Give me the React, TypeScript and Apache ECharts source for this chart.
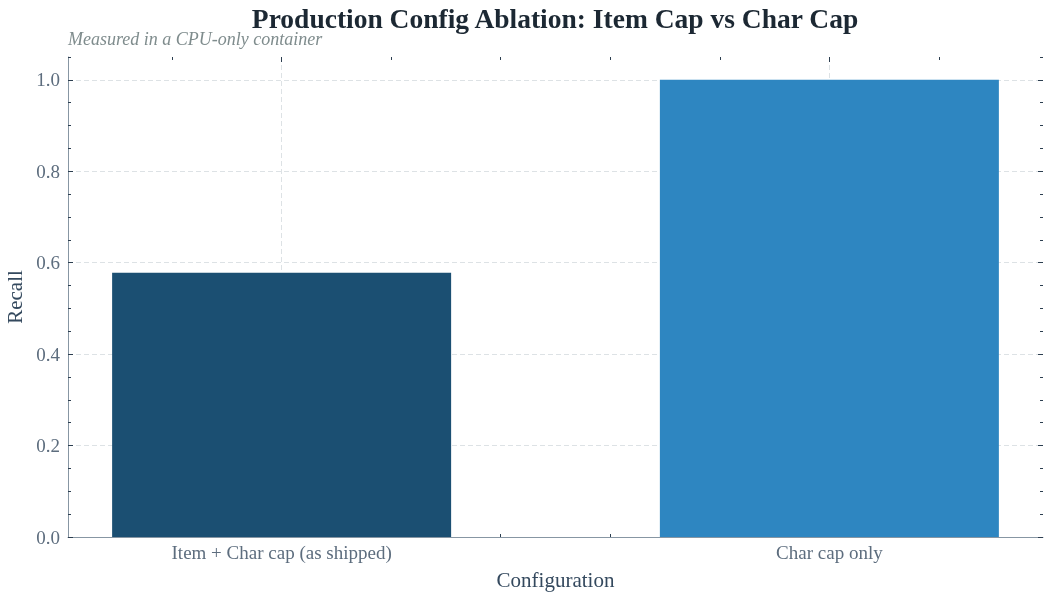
import React, { useEffect, useRef } from "react";
import * as echarts from "echarts";

// data
const categories = ["Item + Char cap (as shipped)", "Char cap only"];
const recall = [0.578, 1.0];
const barColors = ["#1b4f72", "#2e86c1"];

// tick values
const yMajorTicks = [0, 0.2, 0.4, 0.6, 0.8, 1.0];
const yMinorTicks = [
  0.05, 0.1, 0.15, 0.25, 0.3, 0.35, 0.45, 0.5, 0.55, 0.65, 0.7, 0.75, 0.85,
  0.9, 0.95, 1.05,
];
const xMajorTicks = [0, 1];
const xMinorTicks = [-0.2, 0.2, 0.4, 0.6, 0.8, 1.2];

const FONT = "'Liberation Serif', 'Times New Roman', serif";
const TICK_COLOR = "#2c3e50";
const SPINE_COLOR = "#8796a3";
const GRID_COLOR = "#dde2e5";

const X_MIN = -0.39;
const X_MAX = 1.39;

const App: React.FC = () => {
  const chartRef = useRef<HTMLDivElement>(null);

  useEffect(() => {
    const chart = echarts.init(chartRef.current, undefined, { renderer: "svg" });

    // hidden-line axes used only for extra tick marks
    const xAxisBase = {
      type: "value" as const,
      min: X_MIN,
      max: X_MAX,
      axisLine: { show: false, onZero: false },
      axisLabel: { show: false },
      splitLine: { show: false },
    };
    const yAxisBase = {
      type: "value" as const,
      min: 0,
      max: 1.05,
      axisLine: { show: false, onZero: false },
      axisLabel: { show: false },
      splitLine: { show: false },
    };
    const ticks = (values: number[], length: number) => ({
      show: true,
      customValues: values,
      inside: true,
      length,
      lineStyle: { color: TICK_COLOR, width: 1 },
    });

    const option: echarts.EChartsOption = {
      animation: false,
      textStyle: { fontFamily: FONT },
      title: [
        {
          text: "Production Config Ablation: Item Cap vs Char Cap",
          left: 555,
          top: 4,
          padding: 0,
          textAlign: "center",
          textStyle: {
            fontFamily: FONT,
            fontSize: 27.5,
            fontWeight: "bold",
            color: "#1c2833",
          },
        },
        {
          text: "Measured in a CPU-only container",
          left: 68,
          top: 30,
          padding: 0,
          textStyle: {
            fontFamily: FONT,
            fontSize: 18,
            fontStyle: "italic",
            fontWeight: "normal",
            color: "#7f8c8d",
          },
        },
      ],
      grid: {
        left: 68,
        right: 7,
        top: 57,
        bottom: 63,
        containLabel: false,
        outerBoundsMode: "none",
      } as any,
      xAxis: [
        {
          ...xAxisBase,
          position: "bottom",
          name: "Configuration",
          nameLocation: "middle",
          nameGap: 32,
          nameTextStyle: { fontFamily: FONT, fontSize: 21, color: "#34495e" },
          axisLine: { show: true, onZero: false, lineStyle: { color: SPINE_COLOR, width: 1 } },
          axisLabel: {
            show: true,
            customValues: xMajorTicks,
            formatter: (v: number) => categories[Math.round(v)] ?? "",
            fontFamily: FONT,
            fontSize: 19,
            color: "#5d6d7e",
            margin: 6,
          },
          axisTick: ticks(xMajorTicks, 5),
          splitLine: {
            show: true,
            lineStyle: { color: GRID_COLOR, type: [5, 3], width: 1 },
          },
        },
        { ...xAxisBase, position: "bottom", axisTick: ticks(xMinorTicks, 3) },
        { ...xAxisBase, position: "top", axisTick: ticks(xMajorTicks, 5) },
        { ...xAxisBase, position: "top", axisTick: ticks(xMinorTicks, 3) },
      ],
      yAxis: [
        {
          ...yAxisBase,
          position: "left",
          name: "Recall",
          nameLocation: "middle",
          nameGap: 42,
          nameTextStyle: { fontFamily: FONT, fontSize: 21, color: "#34495e" },
          axisLine: { show: true, onZero: false, lineStyle: { color: SPINE_COLOR, width: 1 } },
          axisLabel: {
            show: true,
            customValues: yMajorTicks,
            formatter: (v: number) => v.toFixed(1),
            fontFamily: FONT,
            fontSize: 19,
            color: "#5d6d7e",
            margin: 8,
          },
          axisTick: ticks(yMajorTicks, 5),
          splitLine: {
            show: true,
            lineStyle: { color: GRID_COLOR, type: [5, 3], width: 1 },
          },
        },
        { ...yAxisBase, position: "left", axisTick: ticks(yMinorTicks, 3) },
        { ...yAxisBase, position: "right", axisTick: ticks(yMajorTicks, 5) },
        { ...yAxisBase, position: "right", axisTick: ticks(yMinorTicks, 3) },
      ],
      series: [
        {
          type: "bar",
          xAxisIndex: 0,
          yAxisIndex: 0,
          barWidth: 339,
          data: recall.map((v, i) => ({
            value: [i, v],
            itemStyle: { color: barColors[i] },
          })),
        },
      ],
    };

    chart.setOption(option);
    const onResize = () => chart.resize();
    window.addEventListener("resize", onResize);
    return () => {
      window.removeEventListener("resize", onResize);
      chart.dispose();
    };
  }, []);

  return (
    <div
      ref={chartRef}
      style={{ position: "fixed", left: 0, top: 0, width: 1050, height: 600 }}
    />
  );
};

export default App;
